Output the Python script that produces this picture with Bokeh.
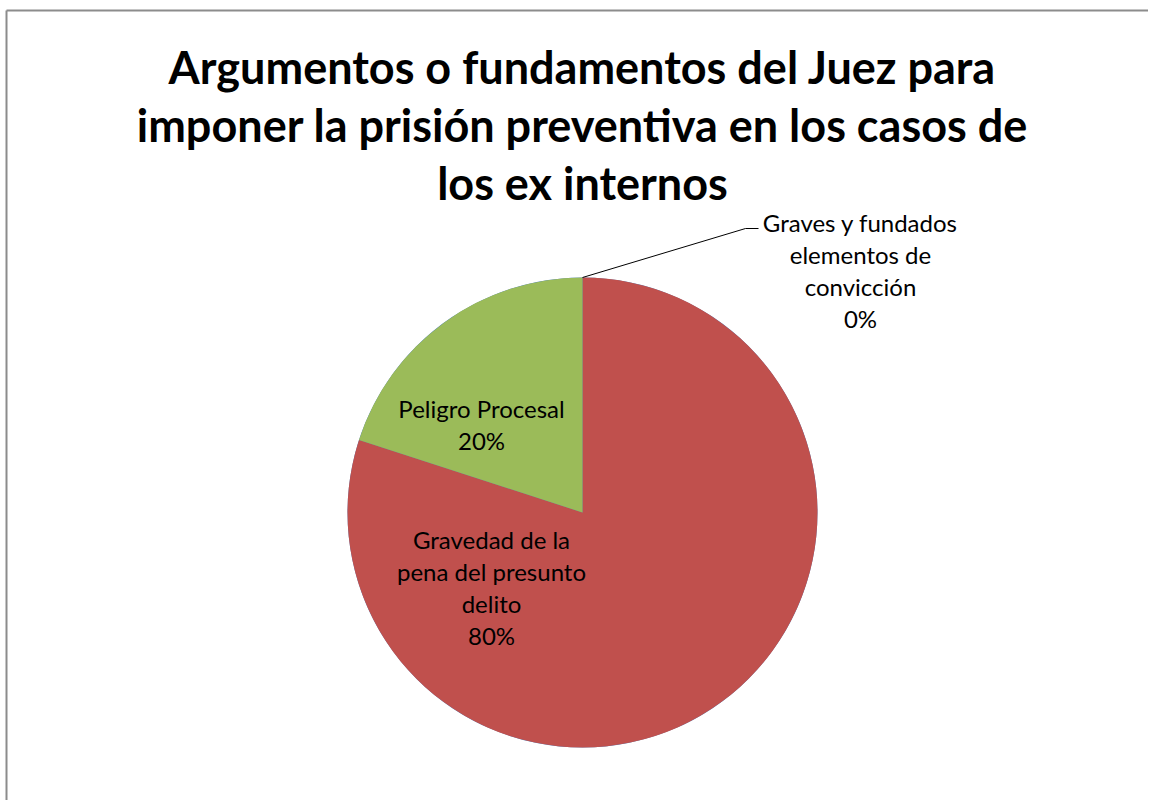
import math
from bokeh.plotting import figure
from bokeh.models import Range1d, ColumnDataSource
from bokeh.core.properties import value
from bokeh.embed import file_html
from bokeh.resources import INLINE

# ---- data ----
categories = ["Graves y fundados elementos de convicción",
              "Gravedad de la pena del presunto delito",
              "Peligro Procesal"]
percent = [0, 80, 20]
colors = ["#4F81BD", "#C0504D", "#9BBB59"]
title_lines = ["Argumentos o fundamentos del Juez para",
               "imponer la prisión preventiva en los casos de",
               "los ex internos"]

# ---- layout (pixel coordinates of the reference picture) ----
W, H = 1148, 800
def px(X): return X
def py(Y): return H - Y

CX, CY, R = 582, 512, 235
label_wrap = [["Graves y fundados", "elementos de", "convicción"],
              ["Gravedad de la", "pena del presunto", "delito"],
              ["Peligro Procesal"]]
label_center_x = [860, 491, 481]
label_last_baseline = [318, 635, 440]
line_gap = 32

p = figure(width=W, height=H, output_backend="svg", toolbar_location=None,
           x_range=Range1d(0, W), y_range=Range1d(0, H),
           x_axis_location=None, y_axis_location=None, min_border=0)
p.grid.visible = False
p.outline_line_color = None
p.background_fill_color = "white"
p.border_fill_color = "white"

# chart border (only left and top visible in the reference crop)
p.line([px(6), px(6)], [py(10), 0], line_color="#8C8C8C", line_width=2)
p.line([px(6), W], [py(10), py(10)], line_color="#8C8C8C", line_width=2)

# pie wedges
total = float(sum(percent))
starts, ends = [], []
cum = 0.0
for v in percent:
    a0 = math.pi / 2 - 2 * math.pi * cum / total
    cum += v
    a1 = math.pi / 2 - 2 * math.pi * cum / total
    starts.append(a0)
    ends.append(a1)
src = ColumnDataSource(dict(start=starts, end=ends, color=colors,
                            cat=categories, pct=percent))
p.wedge(x=px(CX), y=py(CY), radius=R, start_angle="start", end_angle="end",
        direction="clock", fill_color="color", line_color=None, source=src)

# leader line for the 0% slice
mid0 = (starts[0] + ends[0]) / 2
sx = px(CX) + R * math.cos(mid0)
sy = py(CY) + R * math.sin(mid0)
p.line([sx, px(745), px(758)], [sy, py(228), py(228)], line_color="#000000", line_width=1)

# data labels
for i, cat in enumerate(categories):
    lines = label_wrap[i] + [f"{percent[i]}%"]
    n = len(lines)
    for j, t in enumerate(lines):
        base = label_last_baseline[i] - (n - 1 - j) * line_gap
        p.text(x=[px(label_center_x[i])], y=[py(base)], text=[t],
               text_align="center", text_baseline="alphabetic",
               text_font=value("Lato"), text_font_size="24px", text_color="#000000")

# title
title_baselines = [66, 124, 182]
for t, b in zip(title_lines, title_baselines):
    p.text(x=[px(582)], y=[py(b)], text=[t], text_align="center",
           text_baseline="alphabetic", text_font=value("Lato"),
           text_font_style="bold", text_font_size="45px", text_color="#000000")

open("out.html", "w").write(file_html(p, INLINE))
